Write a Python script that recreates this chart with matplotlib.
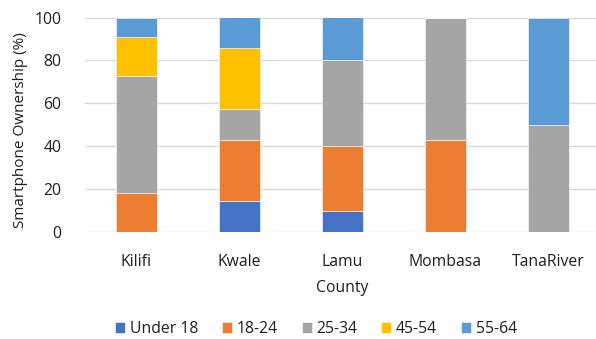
import matplotlib
matplotlib.use("Agg")
import matplotlib.pyplot as plt
import numpy as np

counties = ["Kilifi", "Kwale", "Lamu", "Mombasa", "TanaRiver"]
age_groups = ["Under 18", "18-24", "25-34", "45-54", "55-64"]
under_18 = [0, 14.3, 10, 0, 0]
age_18_24 = [18.2, 28.6, 30, 42.9, 0]
age_25_34 = [54.5, 14.3, 40, 57.1, 50]
age_45_54 = [18.2, 28.6, 0, 0, 0]
age_55_64 = [9.1, 14.3, 20, 0, 50]
colors = ["#4472C4", "#ED7D31", "#A5A5A5", "#FFC000", "#5B9BD5"]

plt.rcParams["font.family"] = ["Open Sans", "DejaVu Sans"]
text_color = "#1f1f1f"
fs = 11.3

W, H = 596, 339
fig = plt.figure(figsize=(W / 100, H / 100), dpi=100)
ax_left, ax_right, ax_top, ax_bottom = 85, 600, 17.5, 232
ax = fig.add_axes([ax_left / W, 1 - ax_bottom / H,
                   (ax_right - ax_left) / W, (ax_bottom - ax_top) / H])

x = np.arange(len(counties))
bottom = np.zeros(len(counties))
for name, vals, c in zip(age_groups, [under_18, age_18_24, age_25_34, age_45_54, age_55_64], colors):
    vals = np.array(vals, dtype=float)
    ax.bar(x, vals, width=0.4, bottom=bottom, color=c, label=name,
           edgecolor="white", linewidth=0.4, zorder=3)
    bottom += vals

ax.set_xlim(-0.5, len(counties) - 0.5)
ax.set_ylim(0, 100)
ax.set_yticks(np.arange(0, 101, 20))
ax.set_xticks(x)
ax.set_xticklabels(counties)
ax.tick_params(axis="y", length=0, labelsize=fs, colors=text_color, pad=17)
ax.tick_params(axis="x", length=0, labelsize=fs, colors=text_color, pad=16)
ax.yaxis.grid(True, color="#D9D9D9", linewidth=1, zorder=0)
for s in ax.spines.values():
    s.set_visible(False)

ax.set_ylabel("Smartphone Ownership (%)", fontsize=11, color=text_color)
ax.yaxis.set_label_coords((28 - ax_left) / (ax_right - ax_left),
                          (ax_bottom - 130) / (ax_bottom - ax_top))
ax.set_xlabel("County", fontsize=fs, color=text_color)
ax.xaxis.set_label_coords(0.5, -(288 - ax_bottom) / (ax_bottom - ax_top))
ax.xaxis.label.set_va("center")

fig.legend(loc="center", bbox_to_anchor=(316 / W, 1 - 329 / H), ncol=5, frameon=False,
           fontsize=fs, handlelength=0.65, handleheight=0.65, handletextpad=0.3,
           columnspacing=1.5, labelcolor=text_color)

fig.savefig("out.png", dpi=100)
